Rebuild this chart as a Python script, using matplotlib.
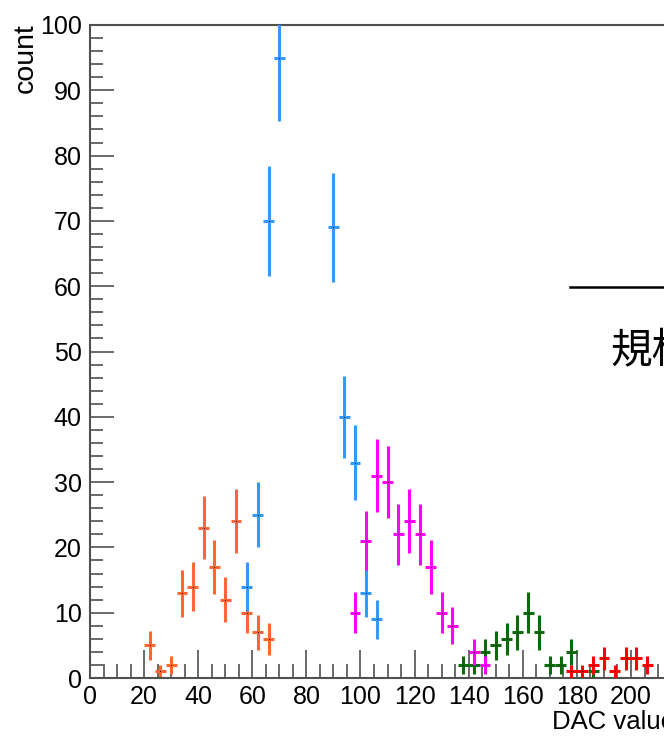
import numpy as np
import matplotlib
matplotlib.use("Agg")
import matplotlib.pyplot as plt
from matplotlib.ticker import MultipleLocator

plt.rcParams['font.family'] = ['Liberation Sans', 'Noto Sans CJK JP', 'DejaVu Sans']

# bin centres (bin width 4) and counts per channel
orange_x = [22, 26, 30, 34, 38, 42, 46, 50, 54, 58, 62, 66]
orange_y = [5, 1, 2, 13, 14, 23, 17, 12, 24, 10, 7, 6]
blue_x = [58, 62, 66, 70, 90, 94, 98, 102, 106]
blue_y = [14, 25, 70, 95, 69, 40, 33, 13, 9]
magenta_x = [98, 102, 106, 110, 114, 118, 122, 126, 130, 134, 142, 146]
magenta_y = [10, 21, 31, 30, 22, 24, 22, 17, 10, 8, 4, 2]
green_x = [138, 142, 146, 150, 154, 158, 162, 166, 170, 174, 178, 186]
green_y = [2, 2, 4, 5, 6, 7, 10, 7, 2, 2, 4, 1]
red_x = [178, 182, 186, 190, 194, 198, 202, 206]
red_y = [1, 1, 2, 3, 1, 3, 3, 2]
bin_w = 4

W, H = 664, 737
xmax = 214
fig = plt.figure(figsize=(W / 100, H / 100), dpi=100)
ax = fig.add_axes([90 / W, 59 / H, xmax * 2.705 / W, 653 / H])

def draw(xs, ys, col, z):
    ys = np.array(ys, dtype=float)
    ax.errorbar(xs, ys, xerr=bin_w / 2, yerr=np.sqrt(ys), fmt='none',
                ecolor=col, elinewidth=2.2, capsize=0, zorder=z)
    ax.plot(xs, ys, ls='none', marker='s', ms=0.6, mew=0, color='black', zorder=z + 0.1)

draw(orange_x, orange_y, '#ff6633', 2)
draw(green_x, green_y, '#0b6b0b', 3)
draw(red_x, red_y, '#ff0000', 4)
draw(magenta_x, magenta_y, '#ff00ff', 5)
draw(blue_x, blue_y, '#3399ff', 6)

ax.set_xlim(0, xmax)
ax.set_ylim(0, 100)
ax.xaxis.set_major_locator(MultipleLocator(20))
ax.xaxis.set_minor_locator(MultipleLocator(5))
ax.yaxis.set_major_locator(MultipleLocator(10))
ax.yaxis.set_minor_locator(MultipleLocator(2))

axcol = '#505050'
for s in ['left', 'bottom', 'top', 'right']:
    ax.spines[s].set_color(axcol)
    ax.spines[s].set_linewidth(1.5)
ax.tick_params(which='both', direction='in', color=axcol, width=1.2,
               labelsize=18, labelcolor='black')
ax.tick_params(axis='x', which='major', length=20, pad=5)
ax.tick_params(axis='x', which='minor', length=10)
ax.tick_params(axis='y', which='major', length=17, pad=6)
ax.tick_params(axis='y', which='minor', length=9)

fig.text(26 / W, 1 - 23 / H, 'count', rotation=90, ha='center', va='top', fontsize=20.5)
fig.text(552 / W, 1 - 722 / H, 'DAC value', ha='left', va='center', fontsize=18.5)

# legend box edge and its title
fig.add_artist(plt.Line2D([570 / W, 1.0], [1 - 286.5 / H, 1 - 286.5 / H],
                          color='black', lw=1.8))
fig.text(610 / W, 1 - 352 / H, '規格', ha='left', va='center', fontsize=30,
         family=['Noto Sans CJK JP', 'DejaVu Sans'])

fig.savefig('out.png', dpi=100)
